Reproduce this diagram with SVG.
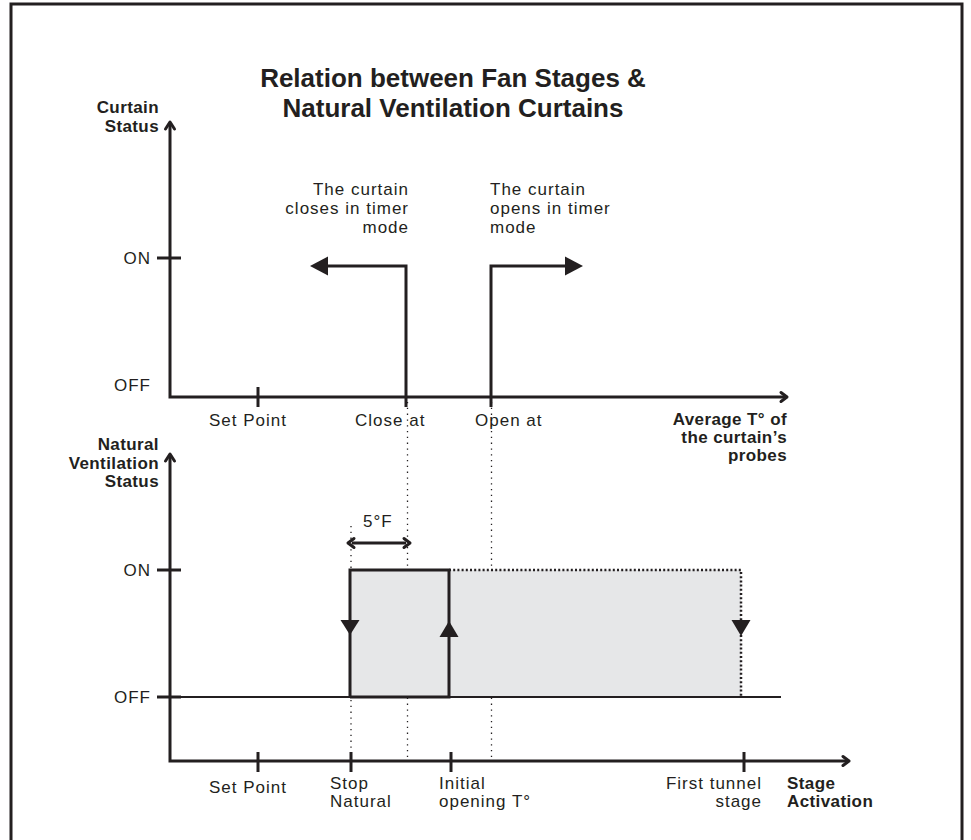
<svg xmlns="http://www.w3.org/2000/svg" width="971" height="840" viewBox="0 0 971 840">
<style>
.t{font-family:"Liberation Sans",Arial,sans-serif;font-size:17px;fill:#231f20;letter-spacing:1px}
.b{font-family:"Liberation Sans",Arial,sans-serif;font-size:17px;font-weight:bold;fill:#231f20;letter-spacing:0.4px}
.title{font-family:"Liberation Sans",Arial,sans-serif;font-size:26px;font-weight:bold;fill:#231f20;text-anchor:middle}
.ax{stroke:#231f20;stroke-width:3;fill:none}
.thin{stroke:#231f20;stroke-width:1.8;fill:none}
.dot{stroke:#231f20;stroke-width:1.3;fill:none;stroke-dasharray:1.3 4.5}
.dotb{stroke:#231f20;stroke-width:2.5;fill:none;stroke-dasharray:2 2.2}
.head{fill:#231f20}
.chev{stroke:#231f20;stroke-width:3;fill:none;stroke-linecap:round;stroke-linejoin:round}
.e{text-anchor:end}
</style>
<rect id="frame" x="11" y="4" width="951" height="900" fill="#fff" stroke="#231f20" stroke-width="3"/>
<g id="title">
<text class="title" x="453" y="87">Relation between Fan Stages &amp;</text>
<text class="title" x="453" y="117">Natural Ventilation Curtains</text>
</g>
<g id="upper-chart">
<text class="b e" x="159" y="113">Curtain</text>
<text class="b e" x="159" y="132">Status</text>
<path class="ax" d="M170 124 V397 H786"/>
<path class="chev" d="M165.5 129 L170 122 L174.5 129"/>
<path class="chev" d="M781 392.5 L787 397 L781 401.5"/>
<path class="ax" d="M157 258 H181"/>
<text class="t e" x="151" y="264">ON</text>
<text class="t e" x="151" y="391">OFF</text>
<path class="ax" d="M258 387 V407"/>
<text class="t" x="209" y="426">Set Point</text>
<text class="t" x="355" y="426">Close at</text>
<text class="t" x="475" y="426">Open at</text>
<text class="b e" x="787" y="425">Average T° of</text>
<text class="b e" x="787" y="443">the curtain’s</text>
<text class="b e" x="787" y="461">probes</text>
</g>
<g id="close-arrow">
<path class="ax" d="M406 407 V266 H325"/>
<path class="head" d="M310 266 L328 256.5 L328 275.5 Z"/>
<text class="t e" x="409" y="195">The curtain</text>
<text class="t e" x="409" y="214">closes in timer</text>
<text class="t e" x="409" y="233">mode</text>
</g>
<g id="open-arrow">
<path class="ax" d="M491 407 V266 H568"/>
<path class="head" d="M583 266 L565 256.5 L565 275.5 Z"/>
<text class="t" x="490" y="195">The curtain</text>
<text class="t" x="490" y="214">opens in timer</text>
<text class="t" x="490" y="233">mode</text>
</g>
<g id="guides">
<path class="dot" d="M407.5 402 V758"/>
<path class="dot" d="M491.5 402 V758"/>
<path class="dot" d="M351 526 V758"/>
</g>
<g id="lower-chart">
<text class="b e" x="159" y="450">Natural</text>
<text class="b e" x="159" y="469">Ventilation</text>
<text class="b e" x="159" y="487">Status</text>
<path class="ax" d="M170 456 V761 H848"/>
<path class="chev" d="M165.5 461 L170 454 L174.5 461"/>
<path class="chev" d="M843 756.5 L849 761 L843 765.5"/>
<path class="ax" d="M157 570 H181"/>
<path class="ax" d="M157 697 H181"/>
<text class="t e" x="151" y="576">ON</text>
<text class="t e" x="151" y="703">OFF</text>
<path class="ax" d="M258 752 V772"/>
<path class="ax" d="M351 752 V772"/>
<path class="ax" d="M451 752 V772"/>
<path class="ax" d="M744 752 V772"/>
<text class="t" x="209" y="793">Set Point</text>
<text class="t" x="330" y="789">Stop</text>
<text class="t" x="330" y="807">Natural</text>
<text class="t" x="439" y="789">Initial</text>
<text class="t" x="439" y="807">opening T°</text>
<text class="t e" x="762" y="789">First tunnel</text>
<text class="t e" x="762" y="807">stage</text>
<text class="b" x="787" y="789">Stage</text>
<text class="b" x="787" y="807">Activation</text>
</g>
<g id="hysteresis">
<rect x="350" y="570" width="391" height="127" fill="#e6e7e8"/>
<path class="thin" d="M170 697 H781"/>
<path class="dotb" d="M449 570 H741 V697"/>
<path class="ax" d="M350 697 V570 H449 V697 H350"/>
<path class="head" d="M350 635 L340.5 620 L359.5 620 Z"/>
<path class="head" d="M449 621 L439.5 637 L458.5 637 Z"/>
<path class="head" d="M741 636 L731.5 620 L750.5 620 Z"/>
</g>
<g id="delta">
<path class="ax" d="M352 543 H406"/>
<path class="chev" d="M354 538.5 L348 543 L354 547.5"/>
<path class="chev" d="M404 538.5 L410 543 L404 547.5"/>
<text class="t" x="363" y="527">5°F</text>
</g>
</svg>
